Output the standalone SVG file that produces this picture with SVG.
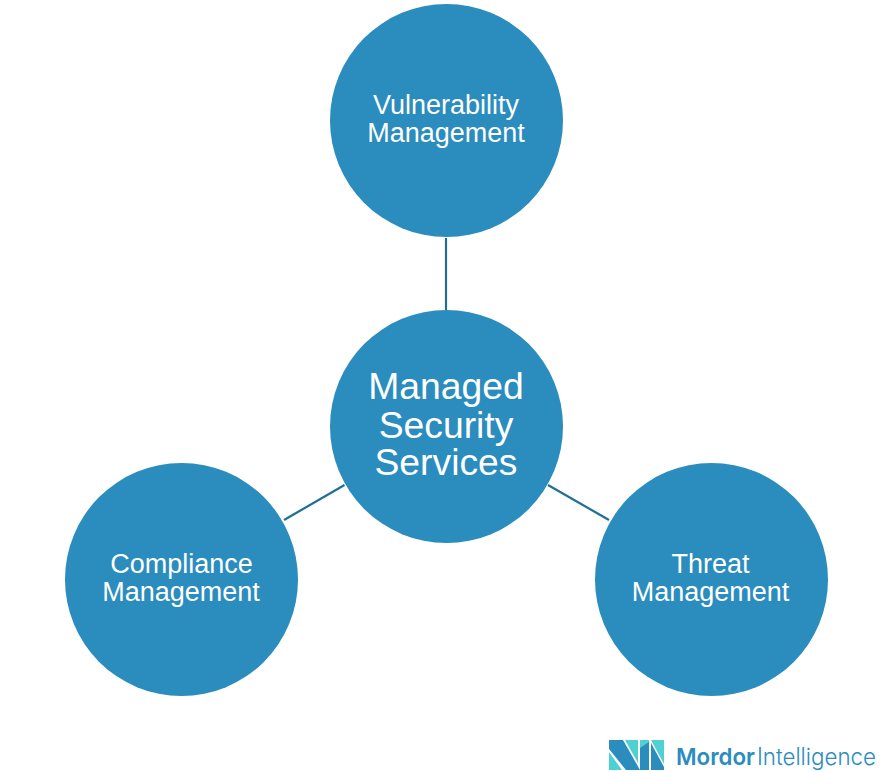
<svg xmlns="http://www.w3.org/2000/svg" width="892" height="772" viewBox="0 0 892 772">
<style>
.n{fill:#2b8cbe}
.t{fill:#fff;font-family:"Liberation Sans",Arial,sans-serif;text-anchor:middle}
.s{font-size:27px}
.b{font-size:37.300px}
.c{stroke:#1f6f97;stroke-width:2.2;fill:none}
.l{font-family:Inter,"Liberation Sans",sans-serif;font-size:23.500px;fill:#2b8cbe}
</style>
<rect width="892" height="772" fill="#fff"/>
<g id="connectors">
<line class="c" x1="446" y1="238" x2="446" y2="310"/>
<line class="c" x1="344.500" y1="485" x2="284" y2="520"/>
<line class="c" x1="548" y1="485" x2="609" y2="520"/>
</g>
<g id="node-top"><circle class="n" cx="446.500" cy="120.500" r="116.500"/><text class="t s" x="446" y="113.500">Vulnerability</text><text class="t s" x="446" y="141.500">Management</text></g>
<g id="node-center"><circle class="n" cx="446.500" cy="426.500" r="116.500"/><text class="t b" x="446" y="399">Managed</text><text class="t b" x="446" y="438">Security</text><text class="t b" x="446" y="475">Services</text></g>
<g id="node-left"><circle class="n" cx="181.500" cy="579.500" r="116.500"/><text class="t s" x="181.500" y="573">Compliance</text><text class="t s" x="181" y="601">Management</text></g>
<g id="node-right"><circle class="n" cx="711.500" cy="579.500" r="116.500"/><text class="t s" x="710.500" y="573">Threat</text><text class="t s" x="710.500" y="601">Management</text></g>
<g id="logo">
<polygon points="609,740 623,740 640,770 626,770 609,749" fill="#2b8cbe"/>
<polygon points="609,752 622,770 609,770" fill="#4fd1d4"/>
<polygon points="625,740 638,740 638,763" fill="#4fd1d4"/>
<polygon points="640,740 649,740 649,770 640,770" fill="#4fd1d4"/>
<polygon points="640,748 649,742 649,770 640,770" fill="#2b8cbe"/>
<polygon points="651,740 664,740 664,764" fill="#4fd1d4"/>
<polygon points="651,743 664,767 664,770 651,770" fill="#2b8cbe"/>
<text class="l" x="676" y="765" font-weight="600" textLength="79" lengthAdjust="spacingAndGlyphs">Mordor</text>
<text class="l" x="757" y="765" font-weight="300" textLength="119" lengthAdjust="spacingAndGlyphs">Intelligence</text>
</g>
</svg>
